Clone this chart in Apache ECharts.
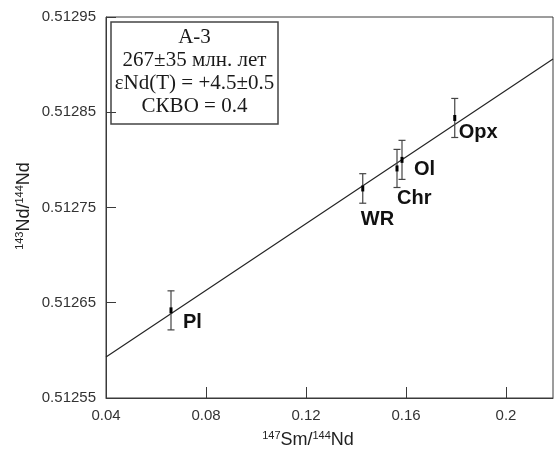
<!DOCTYPE html>
<html>
<head>
<meta charset="utf-8">
<script src="https://cdn.jsdelivr.net/npm/echarts@6/dist/echarts.min.js"></script>
<style>
  html, body { margin: 0; padding: 0; background: #fff; }
  #chart { width: 555px; height: 457px; }
</style>
</head>
<body>
<div id="chart"></div>
<script>
// Sm-Nd isochron, sample A-3
const samples = ['Pl', 'WR', 'Chr', 'Ol', 'Opx'];
const smNd = [0.066, 0.1427, 0.1564, 0.1584, 0.1795];        // 147Sm/144Nd
const ndNd = [0.512642, 0.51277, 0.512791, 0.5128, 0.512844]; // 143Nd/144Nd
const ndErr = [0.0000205, 0.0000155, 0.00002, 0.0000205, 0.0000205];

// isochron end points
const isochronX = [0.04, 0.2188];
const isochronY = [0.512593, 0.512906];

const xTicks = [0.04, 0.08, 0.12, 0.16, 0.2];
const yTicks = [0.51255, 0.51265, 0.51275, 0.51285, 0.51295];

const infoLines = ['А-3', '267±35 млн. лет', 'εNd(T) = +4.5±0.5', 'СКВО = 0.4'];

// label placement relative to each point (px): [dx, dy]
const labelOffsets = [[12, 12], [-2, 31], [0, 30], [12, 10], [4, 15]];

const axisColor = '#3a3a3a';
const tickFont = { fontFamily: 'Liberation Sans, Arial, sans-serif', fontSize: 15, color: '#333' };
const titleRich = {
  s: { fontFamily: 'Liberation Sans, Arial', fontSize: 11, verticalAlign: 'top', lineHeight: 20, fill: '#222' },
  n: { fontFamily: 'Liberation Sans, Arial', fontSize: 18, lineHeight: 20, fill: '#222' }
};

const chart = echarts.init(document.getElementById('chart'), null, { renderer: 'canvas' });

const option = {
  animation: false,
  backgroundColor: '#fff',
  grid: {
    left: 106, right: 2, top: 17, bottom: 59,
    show: true, borderColor: axisColor, borderWidth: 1, backgroundColor: 'transparent'
  },
  xAxis: {
    type: 'value',
    min: xTicks[0], max: isochronX[1], interval: 0.04,
    axisLine: { lineStyle: { color: axisColor, width: 1 } },
    axisTick: { inside: true, length: 11, lineStyle: { color: axisColor } },
    splitLine: { show: false },
    axisLabel: Object.assign({ margin: 10, showMaxLabel: false, formatter: v => String(+v.toFixed(2)) }, tickFont)
  },
  yAxis: {
    type: 'value',
    min: yTicks[0], max: yTicks[yTicks.length - 1],
    axisLine: { lineStyle: { color: axisColor, width: 1 } },
    axisTick: { inside: true, length: 10, customValues: yTicks, lineStyle: { color: axisColor } },
    splitLine: { show: false },
    axisLabel: Object.assign({ margin: 10, customValues: yTicks, formatter: v => v.toFixed(5) }, tickFont)
  },
  graphic: [
    {
      type: 'text',
      x: 308, y: 440,
      style: {
        x: 0, y: 0, align: 'center', verticalAlign: 'middle',
        text: '{s|147}{n|Sm/}{s|144}{n|Nd}',
        rich: titleRich
      }
    },
    {
      type: 'text',
      x: 24, y: 206, rotation: Math.PI / 2,
      style: {
        x: 0, y: 0, align: 'center', verticalAlign: 'middle',
        text: '{s|143}{n|Nd/}{s|144}{n|Nd}',
        rich: titleRich
      }
    },
    {
      type: 'group', x: 111, y: 22,
      children: [
        { type: 'rect', shape: { x: 0, y: 0, width: 167, height: 102 },
          style: { fill: '#fff', stroke: '#444', lineWidth: 1.5 } }
      ].concat(infoLines.map((t, i) => ({
        type: 'text',
        style: {
          x: 83.5, y: 15 + i * 23.3, align: 'center', verticalAlign: 'middle',
          text: t, fontFamily: 'Liberation Serif, Times New Roman, serif', fontSize: 21, fill: '#1a1a1a'
        }
      })))
    }
  ],
  series: [
    {
      type: 'line',
      data: isochronX.map((x, i) => [x, isochronY[i]]),
      symbol: 'none',
      lineStyle: { color: '#222', width: 1.2 },
      z: 2
    },
    {
      type: 'custom',
      data: smNd.map((x, i) => [x, ndNd[i], ndErr[i]]),
      z: 3,
      renderItem: function (params, api) {
        const i = params.dataIndex;
        const x = api.value(0), y = api.value(1), e = api.value(2);
        const c = api.coord([x, y]);
        const top = api.coord([x, y + e]);
        const bot = api.coord([x, y - e]);
        const cap = 3.5;
        const barStyle = { stroke: '#444', lineWidth: 1.2 };
        return {
          type: 'group',
          children: [
            { type: 'line', shape: { x1: top[0], y1: top[1], x2: bot[0], y2: bot[1] }, style: barStyle },
            { type: 'line', shape: { x1: top[0] - cap, y1: top[1], x2: top[0] + cap, y2: top[1] }, style: barStyle },
            { type: 'line', shape: { x1: bot[0] - cap, y1: bot[1], x2: bot[0] + cap, y2: bot[1] }, style: barStyle },
            { type: 'rect', shape: { x: c[0] - 1.5, y: c[1] - 3, width: 3, height: 6 }, style: { fill: '#000' } },
            {
              type: 'text',
              style: {
                x: c[0] + labelOffsets[i][0], y: c[1] + labelOffsets[i][1],
                align: 'left', verticalAlign: 'middle',
                text: samples[i],
                fontFamily: 'Liberation Sans, Arial, sans-serif', fontWeight: 'bold', fontSize: 20, fill: '#111'
              }
            }
          ]
        };
      }
    }
  ]
};

chart.setOption(option);
</script>
</body>
</html>
